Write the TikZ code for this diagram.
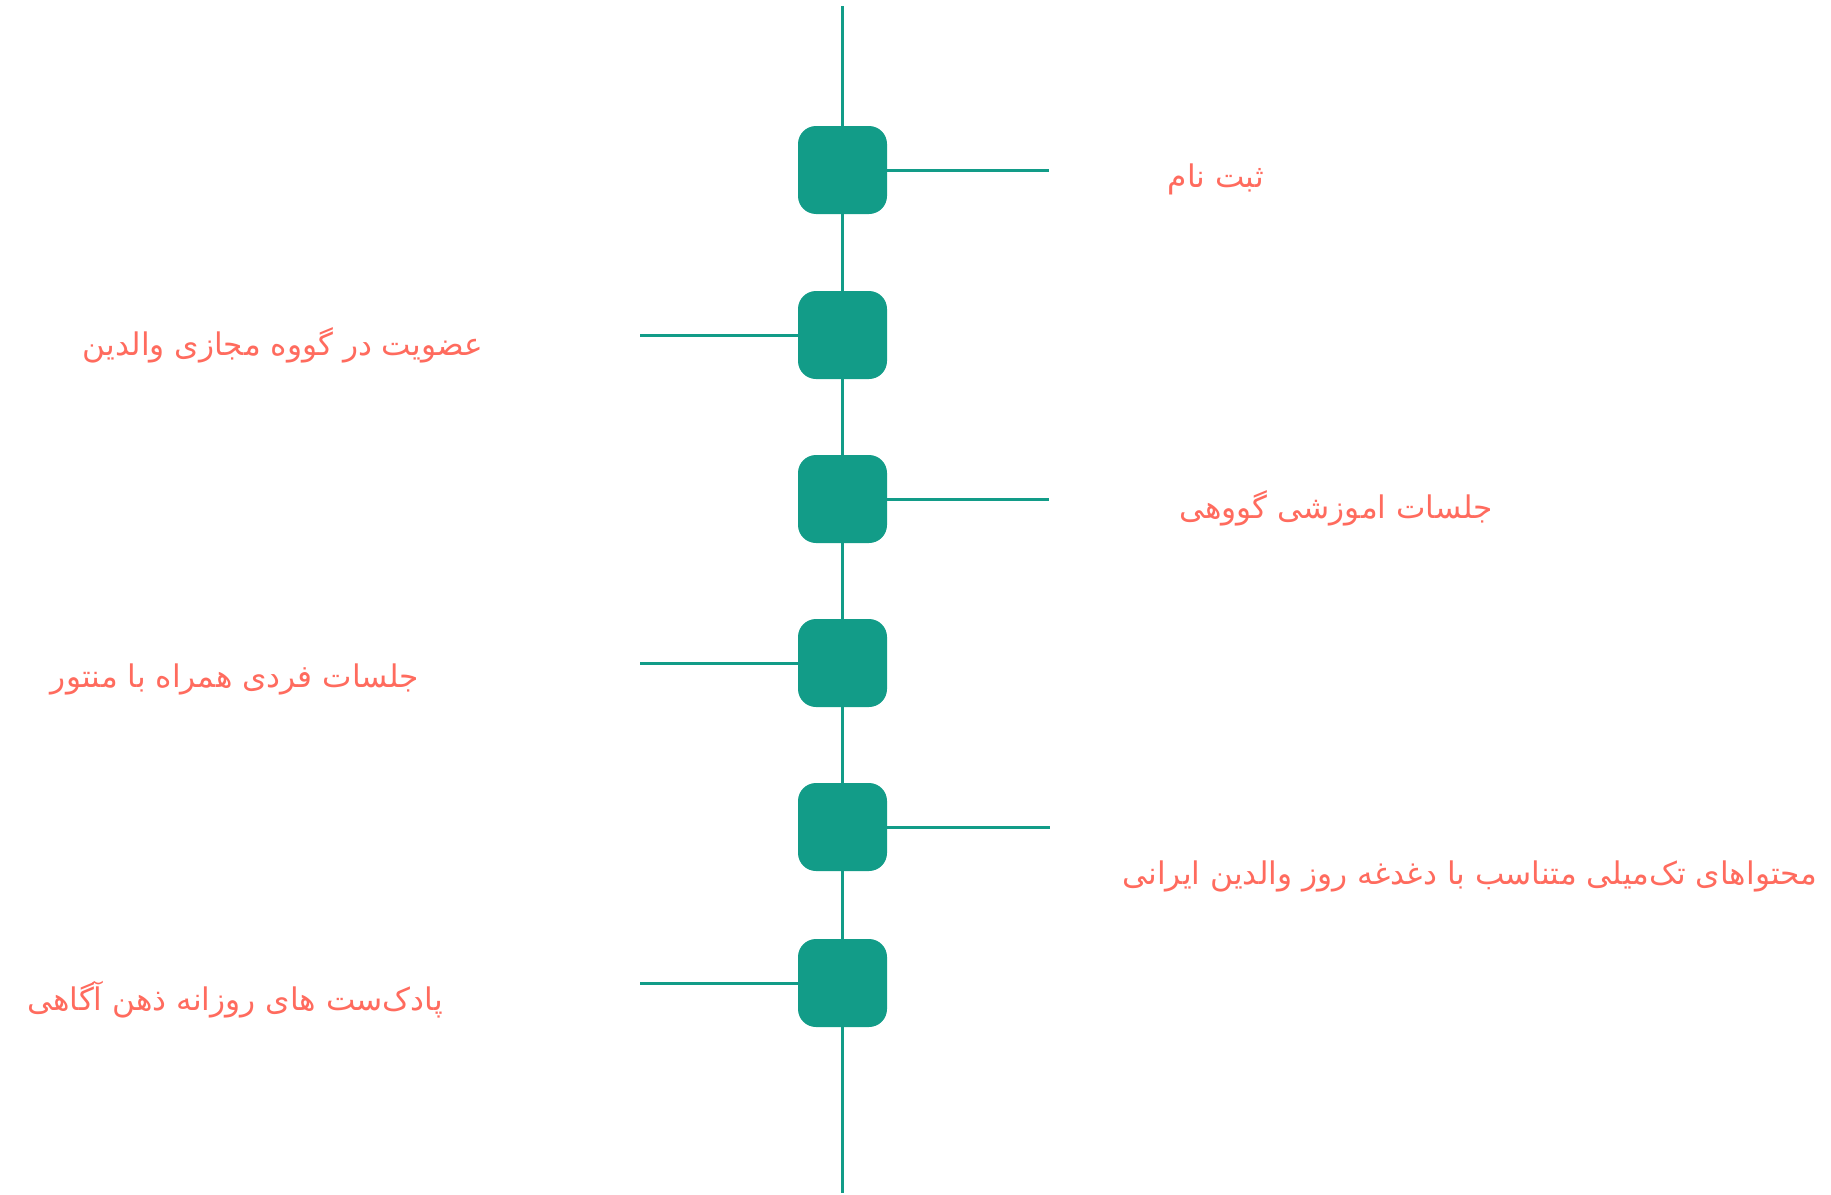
\documentclass[tikz,border=0pt]{standalone}
\usepackage{fontspec}
\TeXXeTstate=1
\newfontfamily\arabicfont[Script=Arabic]{DejaVu Sans}
\definecolor{tl}{HTML}{129C88}
\definecolor{sal}{HTML}{FF6B5E}
\begin{document}
\begin{tikzpicture}[x=0.5pt,y=-0.5pt,
  stepbox/.style={fill=tl,draw=none,rounded corners=9pt,minimum width=44.5pt,minimum height=44pt,inner sep=0pt},
  conn/.style={draw=tl,line width=1.5pt},
  lbl/.style={text=sal,font=\arabicfont\fontsize{15.6}{18}\selectfont,inner sep=0pt}]
\useasboundingbox (0,0) rectangle (1831,1194);
\coordinate (top) at (842.5,6);
\coordinate (bot) at (842.5,1193);
\node[stepbox] (b1) at (842.5,170) {};
\node[stepbox] (b2) at (842.5,335) {};
\node[stepbox] (b3) at (842.5,499) {};
\node[stepbox] (b4) at (842.5,663) {};
\node[stepbox] (b5) at (842.5,827) {};
\node[stepbox] (b6) at (842.5,983) {};
\draw[conn] (top) -- (b1.north);
\draw[conn] (b1.south) -- (b2.north);
\draw[conn] (b2.south) -- (b3.north);
\draw[conn] (b3.south) -- (b4.north);
\draw[conn] (b4.south) -- (b5.north);
\draw[conn] (b5.south) -- (b6.north);
\draw[conn] (b6.south) -- (bot);
\coordinate (r1) at (1049,170);
\coordinate (r3) at (1049,499);
\coordinate (r5) at (1050,827);
\coordinate (l2) at (640,335);
\coordinate (l4) at (640,663);
\coordinate (l6) at (640,983);
\draw[conn] (b1.east) -- (r1);
\draw[conn] (b3.east) -- (r3);
\draw[conn] (b5.east) -- (r5);
\draw[conn] (l2) -- (b2.west);
\draw[conn] (l4) -- (b4.west);
\draw[conn] (l6) -- (b6.west);
\node[lbl] (t1) at (1216,179) {\beginR ثبت نام\endR};
\node[lbl] (t2) at (283,345) {\beginR عضویت در گووه مجازی والدین\endR};
\node[lbl] (t3) at (1336,508) {\beginR جلسات اموزشی گووهی\endR};
\node[lbl] (t4) at (235,679) {\beginR جلسات فردی همراه با منتور\endR};
\node[lbl] (t5) at (1470,876) {\beginR محتواهای تک^^^^200cمیلی متناسب با دغدغه روز والدین ایرانی\endR};
\node[lbl] (t6) at (235,1000) {\beginR پادک^^^^200cست های روزانه ذهن آگاهی\endR};
\end{tikzpicture}
\end{document}
